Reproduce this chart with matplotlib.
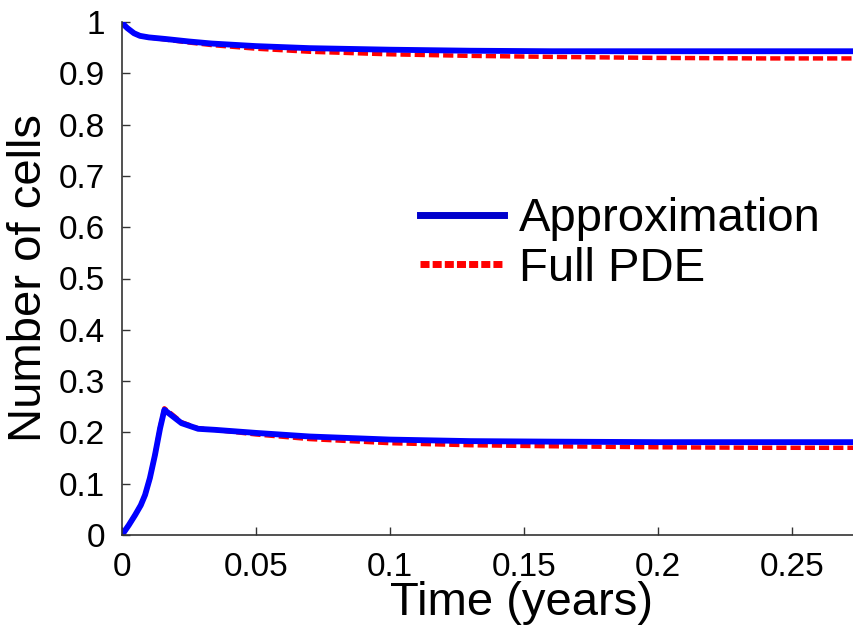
import numpy as np
import matplotlib.pyplot as plt

plt.rcParams['font.family'] = ['Liberation Sans', 'DejaVu Sans']

# time points (years)
t_up = [0.0, 0.001, 0.002, 0.003, 0.0045, 0.0067, 0.010, 0.016, 0.025, 0.0335, 0.050,
        0.070, 0.100, 0.130, 0.160, 0.200, 0.240, 0.273]
approx_up = [1.0, 0.993, 0.988, 0.984, 0.978, 0.973, 0.970, 0.967, 0.962, 0.958, 0.953,
             0.949, 0.946, 0.944, 0.943, 0.943, 0.943, 0.943]
pde_up = [1.0, 0.993, 0.988, 0.984, 0.978, 0.973, 0.970, 0.966, 0.960, 0.955, 0.948,
          0.942, 0.937, 0.934, 0.932, 0.930, 0.929, 0.929]

t_low = [0.0, 0.0025, 0.0049, 0.0070, 0.0086, 0.0104, 0.0123, 0.0142, 0.0158, 0.0185,
         0.0222, 0.0284, 0.0347, 0.050, 0.070, 0.100, 0.130, 0.160, 0.200, 0.240, 0.273]
approx_low = [0.0, 0.019, 0.039, 0.058, 0.078, 0.111, 0.156, 0.208, 0.244, 0.233,
              0.218, 0.207, 0.205, 0.199, 0.192, 0.186, 0.183, 0.182, 0.181, 0.181, 0.181]
pde_low = [0.0, 0.019, 0.039, 0.058, 0.078, 0.111, 0.157, 0.210, 0.247, 0.236,
           0.220, 0.208, 0.205, 0.196, 0.187, 0.179, 0.175, 0.173, 0.171, 0.170, 0.170]

fig = plt.figure(figsize=(8.54, 6.32), dpi=100)
ax = fig.add_axes([122 / 854, 97 / 632, 1 - 122 / 854, (535 - 22) / 632])

dash = (0, (2.3, 0.9))
ax.plot(t_up, pde_up, color='red', lw=3.2, ls=dash)
ax.plot(t_low, pde_low, color='red', lw=3.2, ls=dash)
ax.plot(t_up, approx_up, color='blue', lw=4.2, solid_capstyle='round', solid_joinstyle='round')
ax.plot(t_low, approx_low, color='blue', lw=4.2, solid_capstyle='round', solid_joinstyle='round')

# legend handles
h_app, = ax.plot([], [], color='#0000cc', lw=5)
h_pde, = ax.plot([], [], color='red', lw=5, ls=(0, (1.3, 0.45)))
ax.legend([h_app, h_pde], ['Approximation', 'Full PDE'], frameon=False, fontsize=34,
          loc='upper left', bbox_to_anchor=(0.381, 0.695), handlelength=1.78,
          handletextpad=0.32, labelspacing=0.12, borderaxespad=0)

ax.set_xlim(0, 0.273)
ax.set_ylim(0, 1)
ax.set_xticks([0, 0.05, 0.1, 0.15, 0.2, 0.25])
ax.set_xticklabels(['0', '0.05', '0.1', '0.15', '0.2', '0.25'])
ax.set_yticks(np.arange(0, 1.01, 0.1))
ax.set_yticklabels(['0', '0.1', '0.2', '0.3', '0.4', '0.5', '0.6', '0.7', '0.8', '0.9', '1'])
ax.tick_params(direction='in', length=6, width=1, labelsize=24, pad=12, color='#333333')
for s in ['top', 'right']:
    ax.spines[s].set_visible(False)
for s in ['left', 'bottom']:
    ax.spines[s].set_color('#333333')
    ax.spines[s].set_linewidth(1.2)

ax.set_xlabel('Time (years)', fontsize=34, labelpad=-2)
ax.xaxis.set_label_coords((522 - 122) / 732, -0.09)
ax.set_ylabel('Number of cells', fontsize=34, labelpad=6)

fig.savefig('out.png', dpi=100)
